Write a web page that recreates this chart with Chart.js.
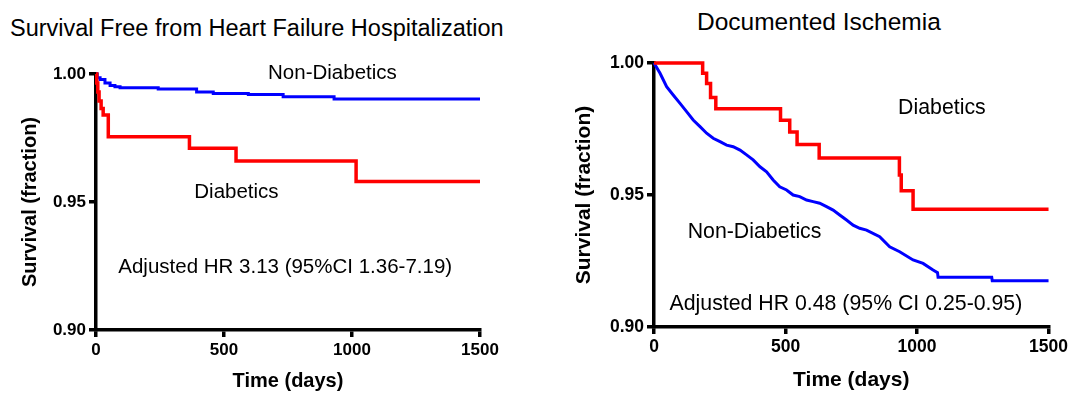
<!DOCTYPE html>
<html>
<head>
<meta charset="utf-8">
<script src="https://cdn.jsdelivr.net/npm/chart.js@4.4.1/dist/chart.umd.min.js"></script>
<style>
  html, body { margin: 0; padding: 0; background: #fff; }
  body { width: 1071px; height: 394px; position: relative; overflow: hidden; font-family: 'Liberation Sans', Arial, sans-serif; }
  .painel { position: absolute; top: 0; height: 394px; }
  .titulo { position: absolute; white-space: nowrap; color: #000; line-height: 1; }
</style>
</head>
<body>
<div class="titulo" style="left:10px; top:17px; font-size:23.5px;">Survival Free from Heart Failure Hospitalization</div>
<div class="titulo" style="left:697px; top:10px; font-size:24.5px;">Documented Ischemia</div>
<div class="painel" style="left:0; width:520px;"><canvas id="graficoHF"></canvas></div>
<div class="painel" style="left:540px; width:531px;"><canvas id="graficoIsquemia"></canvas></div>

<script>
// Kaplan-Meier: dia do evento e sobrevida logo após o evento
// Painel 1 - internação por insuficiência cardíaca
const hfDiasNaoDiab = [0, 5, 16, 35, 55, 74, 94, 243, 393, 458, 595, 731, 930, 1500];
const hfSobrNaoDiab = [1.0, 0.9985, 0.9979, 0.9965, 0.9955, 0.995, 0.9946, 0.9941, 0.993, 0.9924, 0.992, 0.9911, 0.9902, 0.9902];
const hfDiasDiab = [0, 3, 7, 12, 20, 28, 48, 365, 547, 1016, 1500];
const hfSobrDiab = [1.0, 0.9965, 0.993, 0.9895, 0.9865, 0.984, 0.9755, 0.971, 0.966, 0.958, 0.958];

// Painel 2 - isquemia documentada (não diabéticos: muitos eventos pequenos, curva quase contínua)
const isqDiasNaoDiab = [0, 23, 48, 73, 99, 124, 149, 175, 200, 225, 251, 276, 301, 327, 352, 377, 403, 428, 453, 478,
  504, 529, 554, 580, 605, 630, 656, 681, 706, 732, 757, 782, 808, 858, 896, 934, 985, 1023, 1061, 1078, 1080, 1284, 1286, 1500];
const isqSobrNaoDiab = [1.0, 0.9961, 0.991, 0.9879, 0.9847, 0.9816, 0.9784, 0.9759, 0.9734, 0.9715, 0.9702, 0.9689, 0.9683, 0.967, 0.9652, 0.9633, 0.9607, 0.9588, 0.9557, 0.9531,
  0.9519, 0.95, 0.9494, 0.9481, 0.9475, 0.9469, 0.9456, 0.9443, 0.9424, 0.9405, 0.9386, 0.9374, 0.9367, 0.9342, 0.9304, 0.9285, 0.9254, 0.9241, 0.9216, 0.9206, 0.9188, 0.9188, 0.9175, 0.9175];
const isqDiasDiab = [0, 185, 200, 215, 235, 481, 516, 544, 628, 933, 940, 985, 1500];
const isqSobrDiab = [1.0, 0.9961, 0.9922, 0.9869, 0.9827, 0.9783, 0.9739, 0.9691, 0.964, 0.9576, 0.9516, 0.9446, 0.9446];

// Eixos
const ticksTempo = [0, 500, 1000, 1500];
const ticksSobrevida = [0.90, 0.95, 1.00];

const FONTE = "'Liberation Sans', Arial, sans-serif";

const pontos = (dias, sobr) => dias.map((d, i) => ({ x: d, y: sobr[i] }));

// textos dentro do gráfico, posicionados em coordenadas (dia, sobrevida)
const rotulosPlugin = {
  id: 'rotulos',
  afterDatasetsDraw(chart, args, opts) {
    const { ctx, scales: { x, y } } = chart;
    ctx.save();
    ctx.fillStyle = '#000';
    ctx.textAlign = 'left';
    ctx.textBaseline = 'alphabetic';
    (opts.itens || []).forEach(it => {
      ctx.font = it.tam + 'px ' + FONTE;
      ctx.fillText(it.texto, x.getPixelForValue(it.dia), y.getPixelForValue(it.sobr));
    });
    ctx.restore();
  }
};

function criaGrafico(id, diab, naoDiab, cfg) {
  return new Chart(document.getElementById(id), {
    type: 'line',
    data: {
      datasets: [
        {
          label: 'Diabetics',
          data: diab,
          borderColor: '#ff0000',
          borderWidth: 3.5,
          pointRadius: 0,
          stepped: 'before',
          clip: false
        },
        {
          label: 'Non-Diabetics',
          data: naoDiab,
          borderColor: '#0000ff',
          borderWidth: 3,
          pointRadius: 0,
          stepped: cfg.degrauNaoDiab,
          clip: false
        }
      ]
    },
    options: {
      responsive: true,
      maintainAspectRatio: false,
      animation: false,
      layout: { padding: cfg.padding },
      plugins: {
        legend: { display: false },
        tooltip: { enabled: false },
        rotulos: { itens: cfg.rotulos }
      },
      scales: {
        x: {
          type: 'linear',
          min: 0,
          max: 1500,
          afterFit: s => { s.height = cfg.alturaX; },
          afterBuildTicks: s => { s.ticks = ticksTempo.map(v => ({ value: v })); },
          ticks: {
            color: '#000',
            padding: 3,
            maxRotation: 0,
            autoSkip: false,
            font: { family: FONTE, size: cfg.fonteTick, weight: 'bold' },
            callback: v => String(v)
          },
          grid: { drawOnChartArea: false, drawTicks: true, tickLength: 7, color: '#000', lineWidth: 3.5 },
          border: { color: '#000', width: 3.5 },
          title: {
            display: true,
            text: 'Time (days)',
            color: '#000',
            padding: cfg.padTituloX,
            font: { family: FONTE, size: cfg.fonteTitulo, weight: 'bold' }
          }
        },
        y: {
          min: 0.9,
          max: 1.0,
          afterFit: s => { s.width = cfg.larguraY; },
          afterBuildTicks: s => { s.ticks = ticksSobrevida.map(v => ({ value: v })); },
          ticks: {
            color: '#000',
            padding: 3,
            font: { family: FONTE, size: cfg.fonteTick, weight: 'bold' },
            callback: v => v.toFixed(2)
          },
          grid: { drawOnChartArea: false, drawTicks: true, tickLength: 7, color: '#000', lineWidth: 3.5 },
          border: { color: '#000', width: 3.5 },
          title: {
            display: true,
            text: 'Survival (fraction)',
            color: '#000',
            padding: cfg.padTituloY,
            font: { family: FONTE, size: cfg.fonteTitulo, weight: 'bold' }
          }
        }
      }
    },
    plugins: [rotulosPlugin]
  });
}

criaGrafico('graficoHF', pontos(hfDiasDiab, hfSobrDiab), pontos(hfDiasNaoDiab, hfSobrNaoDiab), {
  padding: { left: 10, right: 40, top: 74, bottom: 0 },
  larguraY: 86,
  alturaX: 64,
  fonteTick: 17,
  fonteTitulo: 20,
  padTituloX: 1,
  padTituloY: 8,
  degrauNaoDiab: 'before',
  rotulos: [
    { texto: 'Non-Diabetics', dia: 672, sobr: 0.99805, tam: 20.5 },
    { texto: 'Diabetics', dia: 384, sobr: 0.9517, tam: 20.5 },
    { texto: 'Adjusted HR 3.13 (95%CI 1.36-7.19)', dia: 87, sobr: 0.9221, tam: 20.5 }
  ]
});

criaGrafico('graficoIsquemia', pontos(isqDiasDiab, isqSobrDiab), pontos(isqDiasNaoDiab, isqSobrNaoDiab), {
  padding: { left: 26, right: 22, top: 63, bottom: 0 },
  larguraY: 88,
  alturaX: 67,
  fonteTick: 17.5,
  fonteTitulo: 21,
  padTituloX: 1.4,
  padTituloY: 5.4,
  degrauNaoDiab: false,
  rotulos: [
    { texto: 'Diabetics', dia: 928, sobr: 0.98068, tam: 21.3 },
    { texto: 'Non-Diabetics', dia: 128, sobr: 0.93383, tam: 21.3 },
    { texto: 'Adjusted HR 0.48 (95% CI 0.25-0.95)', dia: 59, sobr: 0.90644, tam: 21.3 }
  ]
});
</script>
</body>
</html>
